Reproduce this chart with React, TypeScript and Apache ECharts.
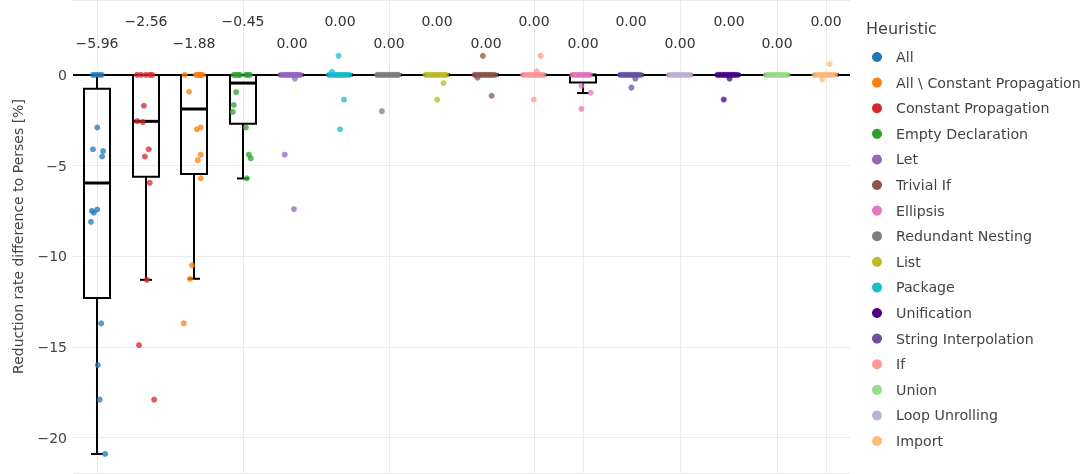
import { useEffect, useRef } from "react";
import * as echarts from "echarts";

const FONT = "DejaVu Sans";

// Heuristics in the order they sit along the x axis
const heuristics = [
  "All",
  "Constant Propagation",
  "All \\ Constant Propagation",
  "Empty Declaration",
  "Let",
  "Package",
  "Redundant Nesting",
  "List",
  "Trivial If",
  "If",
  "Ellipsis",
  "String Interpolation",
  "Loop Unrolling",
  "Unification",
  "Union",
  "Import",
];

// Legend order
const legendOrder = [
  "All",
  "All \\ Constant Propagation",
  "Constant Propagation",
  "Empty Declaration",
  "Let",
  "Trivial If",
  "Ellipsis",
  "Redundant Nesting",
  "List",
  "Package",
  "Unification",
  "String Interpolation",
  "If",
  "Union",
  "Loop Unrolling",
  "Import",
];

const colors: Record<string, string> = {
  "All": "#1f77b4",
  "All \\ Constant Propagation": "#ff7f0e",
  "Constant Propagation": "#d62728",
  "Empty Declaration": "#2ca02c",
  "Let": "#9467bd",
  "Trivial If": "#8c564b",
  "Ellipsis": "#e377c2",
  "Redundant Nesting": "#7f7f7f",
  "List": "#bcbd22",
  "Package": "#17becf",
  "Unification": "#4b0082",
  "String Interpolation": "#6a51a3",
  "If": "#ff9896",
  "Union": "#98df8a",
  "Loop Unrolling": "#c5b0d5",
  "Import": "#ffbb78",
};

// Box statistics per heuristic: [lower whisker, Q1, median, Q3, upper whisker]
const boxStats = [
  [-20.9, -12.3, -5.96, -0.77, 0],
  [-11.3, -5.62, -2.56, 0, 0],
  [-11.24, -5.47, -1.88, 0, 0],
  [-5.71, -2.7, -0.45, 0, 0],
  [0, 0, 0, 0, 0],
  [0, 0, 0, 0, 0],
  [0, 0, 0, 0, 0],
  [0, 0, 0, 0, 0],
  [0, 0, 0, 0, 0],
  [0, 0, 0, 0, 0],
  [-1.0, -0.42, 0, 0, 0],
  [0, 0, 0, 0, 0],
  [0, 0, 0, 0, 0],
  [0, 0, 0, 0, 0],
  [0, 0, 0, 0, 0],
  [0, 0, 0, 0, 0],
];

// Individual benchmark results (reduction-rate difference, %)
const ptsAll = [0, 0, 0, 0, -2.9, -4.1, -4.2, -4.5, -7.42, -7.5, -7.6, -8.1, -13.7, -16.0, -17.9, -20.9];
const ptsConstProp = [0, 0, 0, 0, 0, -1.7, -2.55, -2.6, -4.1, -4.5, -5.95, -11.3, -14.9, -17.9];
const ptsAllNoCP = [0, 0, 0, 0, 0, 0, 0, -0.93, -2.9, -3.0, -4.4, -4.7, -5.7, -10.5, -11.25, -13.7];
const ptsEmptyDecl = [0, 0, 0, 0, 0, 0, 0, -0.95, -1.66, -2.04, -2.9, -4.4, -4.6, -5.7];
const ptsLet = [0, 0, 0, 0, 0, 0, 0, 0, 0, 0, 0, 0, 0, -0.2, -4.4, -7.4];
const ptsPackage = [0, 0, 0, 0, 0, 0, 0, 0, 0, 0, 0, 1.05, 0.17, -1.36, -3.0];
const ptsRedNest = [0, 0, 0, 0, 0, 0, 0, 0, 0, 0, 0, 0, -2.0];
const ptsList = [0, 0, 0, 0, 0, 0, 0, 0, 0, 0, 0, -0.45, -1.36];
const ptsTrivialIf = [0, 0, 0, 0, 0, 0, 0, 0, 0, 0, 0, 1.05, -0.15, -1.15];
const ptsIf = [0, 0, 0, 0, 0, 0, 0, 0, 0, 0, 0, 1.05, 0.2, -1.36];
const ptsEllipsis = [0, 0, 0, 0, 0, 0, 0, 0, 0, 0, -0.6, -0.98, -1.87];
const ptsStrInterp = [0, 0, 0, 0, 0, 0, 0, 0, 0, 0, 0, -0.2, -0.7];
const ptsLoopUnroll = [0, 0, 0, 0, 0, 0, 0, 0, 0, 0, 0, 0];
const ptsUnification = [0, 0, 0, 0, 0, 0, 0, 0, 0, 0, 0, -0.2, -1.36];
const ptsUnion = [0, 0, 0, 0, 0, 0, 0, 0, 0, 0, 0, 0];
const ptsImport = [0, 0, 0, 0, 0, 0, 0, 0, 0, 0, 0, 0.6, -0.25];

// Horizontal jitter of each point, in category widths
const jitAll = [-0.09, -0.03, 0.03, 0.09, 0, -0.09, 0.12, 0.1, 0, -0.11, -0.07, -0.13, 0.08, 0.01, 0.05, 0.16];
const jitConstProp = [-0.18, -0.1, 0, 0.08, 0.13, -0.04, -0.18, -0.06, 0.06, -0.02, 0.08, 0.02, -0.14, 0.17];
const jitAllNoCP = [-0.2, 0.03, 0.07, 0.09, 0.11, 0.13, 0.17, -0.11, 0.13, 0.05, 0.13, 0.07, 0.13, -0.05, -0.09, -0.22];
const jitEmptyDecl = [-0.19, -0.14, -0.1, -0.06, 0.06, 0.1, 0.14, -0.14, -0.19, -0.21, 0.06, 0.12, 0.16, 0.08];
const jitLet = [-0.22, -0.18, -0.14, -0.1, -0.07, -0.04, -0.01, 0.02, 0.05, 0.08, 0.11, 0.14, 0.18, 0.07, -0.14, 0.05];
const jitPackage = [-0.23, -0.19, -0.14, -0.1, -0.06, -0.02, 0.02, 0.06, 0.1, 0.14, 0.19, -0.03, -0.17, 0.08, 0];
const jitRedNest = [-0.24, -0.2, -0.15, -0.11, -0.07, -0.02, 0.02, 0.06, 0.1, 0.14, 0.18, 0.2, -0.14];
const jitList = [-0.24, -0.2, -0.15, -0.11, -0.07, -0.02, 0.02, 0.06, 0.1, 0.14, 0.18, 0.13, 0];
const jitTrivialIf = [-0.23, -0.19, -0.14, -0.1, -0.06, -0.02, 0.02, 0.06, 0.1, 0.14, 0.19, -0.06, -0.17, 0.12];
const jitIf = [-0.23, -0.19, -0.14, -0.1, -0.06, -0.02, 0.02, 0.06, 0.1, 0.14, 0.19, 0.13, 0.05, -0.01];
const jitEllipsis = [-0.22, -0.18, -0.14, -0.1, -0.06, -0.02, 0.02, 0.06, 0.1, 0.14, -0.03, 0.16, -0.03];
const jitStrInterp = [-0.23, -0.19, -0.14, -0.1, -0.06, -0.02, 0.02, 0.06, 0.1, 0.14, 0.19, 0.08, 0];
const jitLoopUnroll = [-0.23, -0.19, -0.14, -0.1, -0.06, -0.02, 0.02, 0.06, 0.1, 0.14, 0.18, 0.21];
const jitUnification = [-0.23, -0.19, -0.14, -0.1, -0.06, -0.02, 0.02, 0.06, 0.1, 0.14, 0.19, 0.02, -0.1];
const jitUnion = [-0.23, -0.19, -0.14, -0.1, -0.06, -0.02, 0.02, 0.06, 0.1, 0.14, 0.18, 0.21];
const jitImport = [-0.23, -0.19, -0.14, -0.1, -0.06, -0.02, 0.02, 0.06, 0.1, 0.14, 0.19, 0.08, -0.07];

const points = [
  ptsAll, ptsConstProp, ptsAllNoCP, ptsEmptyDecl, ptsLet, ptsPackage, ptsRedNest, ptsList,
  ptsTrivialIf, ptsIf, ptsEllipsis, ptsStrInterp, ptsLoopUnroll, ptsUnification, ptsUnion, ptsImport,
];
const jitter = [
  jitAll, jitConstProp, jitAllNoCP, jitEmptyDecl, jitLet, jitPackage, jitRedNest, jitList,
  jitTrivialIf, jitIf, jitEllipsis, jitStrInterp, jitLoopUnroll, jitUnification, jitUnion, jitImport,
];

// Categories that carry a vertical grid line
const gridCategories = [0, 3, 6, 9, 10, 12, 14, 15];

const Y_MIN = -21.95;
const Y_MAX = 4.13;

const fmt = (v: number) => {
  const s = Math.abs(v).toFixed(2);
  return v < 0 && s !== "0.00" ? "\u2212" + s : s;
};

export default function App() {
  const ref = useRef<HTMLDivElement>(null);

  useEffect(() => {
    if (!ref.current) return;
    const chart = echarts.init(ref.current, null, { renderer: "svg" });

    // Vertical grid lines plus the zero line
    const gridSeries = {
      type: "custom",
      z: 1,
      silent: true,
      data: gridCategories.map((c) => [c]),
      renderItem: (params: any, api: any) => {
        const c = api.value(0);
        const x = Math.round(api.coord([c, 0])[0]) + 0.5;
        const yTop = api.coord([c, Y_MAX])[1];
        const yBot = api.coord([c, Y_MIN])[1];
        const children: any[] = [
          { type: "line", shape: { x1: x, y1: yTop, x2: x, y2: yBot }, style: { stroke: "#ebebeb", lineWidth: 1 } },
        ];
        if (params.dataIndex === 0) {
          const y0 = Math.round(api.coord([c, 0])[1]);
          const xl = api.coord([-0.5, 0])[0];
          const xr = api.coord([15.5, 0])[0];
          children.push({
            type: "line",
            shape: { x1: xl, y1: y0, x2: xr, y2: y0 },
            style: { stroke: "#000", lineWidth: 2 },
          });
        }
        return { type: "group", children };
      },
    };

    const boxSeries = {
      type: "custom",
      z: 2,
      silent: true,
      data: boxStats.map((b, i) => [i, ...b]),
      renderItem: (_params: any, api: any) => {
        const i = api.value(0);
        const lo = api.value(1);
        const q1 = api.value(2);
        const med = api.value(3);
        const q3 = api.value(4);
        const hi = api.value(5);
        const half = 0.27;
        const capHalf = 6;
        const [xl, yq3] = api.coord([i - half, q3]);
        const [xr, yq1] = api.coord([i + half, q1]);
        const [xc0, ymed] = api.coord([i, med]);
        const xc = Math.round(xc0);
        const yLo = api.coord([i, lo])[1];
        const yHi = api.coord([i, hi])[1];
        const yZero = api.coord([i, 0])[1];
        const stroke = { stroke: "#000", lineWidth: 2 };
        return {
          type: "group",
          children: [
            { type: "line", shape: { x1: xc, y1: yq1, x2: xc, y2: yLo }, style: stroke },
            { type: "line", shape: { x1: xc - capHalf, y1: yLo, x2: xc + capHalf, y2: yLo }, style: stroke },
            { type: "line", shape: { x1: xc, y1: yq3, x2: xc, y2: yHi }, style: stroke },
            { type: "line", shape: { x1: xc - capHalf, y1: yHi, x2: xc + capHalf, y2: yHi }, style: stroke },
            {
              type: "rect",
              shape: { x: Math.round(xl), y: yq3, width: Math.round(xr - xl), height: Math.max(yq1 - yq3, 0) },
              style: { fill: "none", stroke: "#000", lineWidth: 2 },
            },
            {
              type: "line",
              shape: { x1: Math.round(xl), y1: ymed, x2: Math.round(xl) + Math.round(xr - xl), y2: ymed },
              style: { stroke: "#000", lineWidth: 3 },
            },
            {
              type: "text",
              z2: 10,
              style: {
                text: fmt(med),
                x: xc,
                y: yZero - (i % 2 === 1 ? 54 : 32),
                textAlign: "center",
                textVerticalAlign: "middle",
                fontSize: 14,
                fontFamily: FONT,
                fill: "#333",
              },
            },
          ],
        };
      },
    };

    const pointSeries = heuristics.map((name, i) => ({
      type: "scatter",
      name,
      z: 3,
      symbolSize: 6,
      itemStyle: { color: colors[name], opacity: 0.75 },
      data: points[i].map((v, k) => [i + jitter[i][k], v]),
    }));

    chart.setOption({
      animation: false,
      textStyle: { fontFamily: FONT },
      title: {
        text: "Heuristic",
        left: 861,
        top: 15,
        textStyle: { fontSize: 16, fontWeight: "normal", color: "#444", fontFamily: FONT },
      },
      legend: {
        data: legendOrder,
        orient: "vertical",
        left: 867,
        top: 44,
        icon: "circle",
        itemWidth: 28,
        itemHeight: 10,
        itemGap: 9.6,
        itemStyle: { opacity: 1 },
        textStyle: { fontSize: 14.2, color: "#444", fontFamily: FONT, lineHeight: 16 },
      },
      grid: { left: 73, right: 235, top: -1, bottom: 1 },
      xAxis: {
        type: "value",
        min: -0.5,
        max: 15.5,
        axisLine: { show: false },
        axisTick: { show: false },
        axisLabel: { show: false },
        splitLine: { show: false },
      },
      yAxis: {
        type: "value",
        min: Y_MIN,
        max: Y_MAX,
        splitNumber: 5,
        name: "Reduction rate difference to Perses [%]",
        nameLocation: "middle",
        nameGap: 48,
        nameTextStyle: { fontSize: 14, color: "#444", fontFamily: FONT },
        axisLine: { show: false },
        axisTick: { show: false },
        axisLabel: {
          fontSize: 14,
          color: "#444",
          margin: 6,
          fontFamily: FONT,
          formatter: (v: number) => {
            if (Math.abs(v % 5) > 1e-6) return "";
            if (v === 0) return "0";
            return (v < 0 ? "\u2212" : "") + Math.abs(v);
          },
        },
        splitLine: { lineStyle: { color: "#ebebeb", width: 1 } },
      },
      series: [gridSeries, boxSeries, ...pointSeries],
    });

    return () => chart.dispose();
  }, []);

  return <div ref={ref} style={{ position: "fixed", left: 0, top: 0, width: 1085, height: 474 }} />;
}
